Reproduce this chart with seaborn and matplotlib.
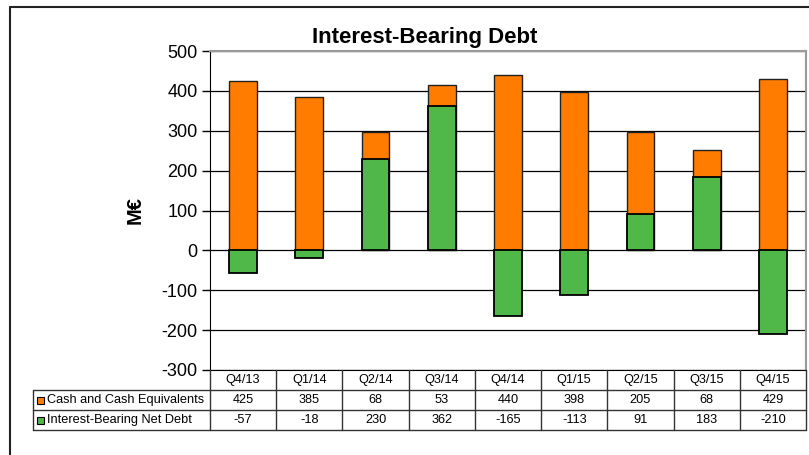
import numpy as np
import pandas as pd
import seaborn as sns
import matplotlib.pyplot as plt
from matplotlib.lines import Line2D
from matplotlib.patches import Rectangle

quarters = ['Q4/13', 'Q1/14', 'Q2/14', 'Q3/14', 'Q4/14', 'Q1/15', 'Q2/15', 'Q3/15', 'Q4/15']
cash = [425, 385, 68, 53, 440, 398, 205, 68, 429]
net_debt = [-57, -18, 230, 362, -165, -113, 91, 183, -210]
series_names = ['Cash and Cash Equivalents', 'Interest-Bearing Net Debt']

ORANGE = '#FF7C00'
GREEN = '#4FB848'
W, H = 809, 455

sns.set_style('white')
plt.rcParams['font.family'] = ['Liberation Sans', 'DejaVu Sans']
plt.rcParams['axes.unicode_minus'] = False
plt.rcParams['text.color'] = 'black'
plt.rcParams['ytick.color'] = 'black'
plt.rcParams['ytick.labelcolor'] = 'black'

df = pd.DataFrame({'quarter': quarters, 'cash': cash, 'net': net_debt})
# orange stacks on top of positive net debt, negative net debt hangs below zero
df['top'] = df['net'].clip(lower=0) + df['cash']


def fx(x):
    return x / W


def fy(y):
    return 1 - y / H


fig = plt.figure(figsize=(W / 100, H / 100), dpi=100)
ax = fig.add_axes([fx(210), fy(370), fx(806) - fx(210), fy(51) - fy(370)])

sns.barplot(data=df, x='quarter', y='top', color=ORANGE, width=0.42,
            edgecolor='#222222', linewidth=1, saturation=1, ax=ax, zorder=3)
sns.barplot(data=df, x='quarter', y='net', color=GREEN, width=0.42,
            edgecolor='black', linewidth=1.3, saturation=1, ax=ax, zorder=4)

ax.set_ylim(-300, 500)
ax.set_xlim(-0.5, len(quarters) - 0.5)
ax.set_yticks(np.arange(-300, 501, 100))
ax.tick_params(axis='y', labelsize=13, length=6, width=1, direction='out',
               color='black', labelcolor='black', left=True, pad=3)
ax.set_xticks([])
ax.set_xlabel('')
ax.set_ylabel('')
ax.grid(axis='y', color='black', linewidth=0.9, zorder=0)
ax.set_axisbelow(True)
for s in ['top', 'right']:
    ax.spines[s].set_color('#999999')
    ax.spines[s].set_linewidth(1.5)
ax.spines['left'].set_color('black')
ax.spines['bottom'].set_color('black')

fig.text(fx(425), fy(38), 'Interest-Bearing Debt', ha='center', va='center',
         fontsize=16, fontweight='bold')
fig.text(fx(135), fy(210), 'M€', ha='center', va='center', rotation=90,
         fontsize=14.5, fontweight='bold')

# outer frame
fig.add_artist(Line2D([fx(10), fx(809)], [fy(7), fy(7)], transform=fig.transFigure, color='#222222', lw=1.5))
fig.add_artist(Line2D([fx(10), fx(10)], [fy(7), fy(455)], transform=fig.transFigure, color='#222222', lw=1.5))

# data table below the axes
x0, x1, lab_x0 = 210, 806, 33
rows_y = [370, 390, 410, 430]
col_w = (x1 - x0) / len(quarters)
lc = '#333333'
for y in rows_y[1:]:
    fig.add_artist(Line2D([fx(lab_x0), fx(x1)], [fy(y), fy(y)], transform=fig.transFigure, color=lc, lw=1))
for i in range(len(quarters) + 1):
    xx = x0 + i * col_w
    fig.add_artist(Line2D([fx(xx), fx(xx)], [fy(370), fy(430)], transform=fig.transFigure, color=lc, lw=1))
fig.add_artist(Line2D([fx(lab_x0), fx(lab_x0)], [fy(390), fy(430)], transform=fig.transFigure, color=lc, lw=1))

for i, q in enumerate(quarters):
    cx = x0 + (i + 0.5) * col_w
    fig.text(fx(cx), fy(380), q, ha='center', va='center', fontsize=9.2)
    fig.text(fx(cx), fy(400), str(cash[i]), ha='center', va='center', fontsize=9.2)
    fig.text(fx(cx), fy(420), str(net_debt[i]), ha='center', va='center', fontsize=9.2)

for name, col, yc in zip(series_names, [ORANGE, GREEN], [400, 420]):
    fig.add_artist(Rectangle((fx(37), fy(yc + 3.5)), fx(7), fy(yc - 3.5) - fy(yc + 3.5),
                             transform=fig.transFigure, facecolor=col, edgecolor='black', lw=0.8))
    fig.text(fx(47), fy(yc), name, ha='left', va='center', fontsize=9.2)

fig.savefig('out.png', dpi=100)
